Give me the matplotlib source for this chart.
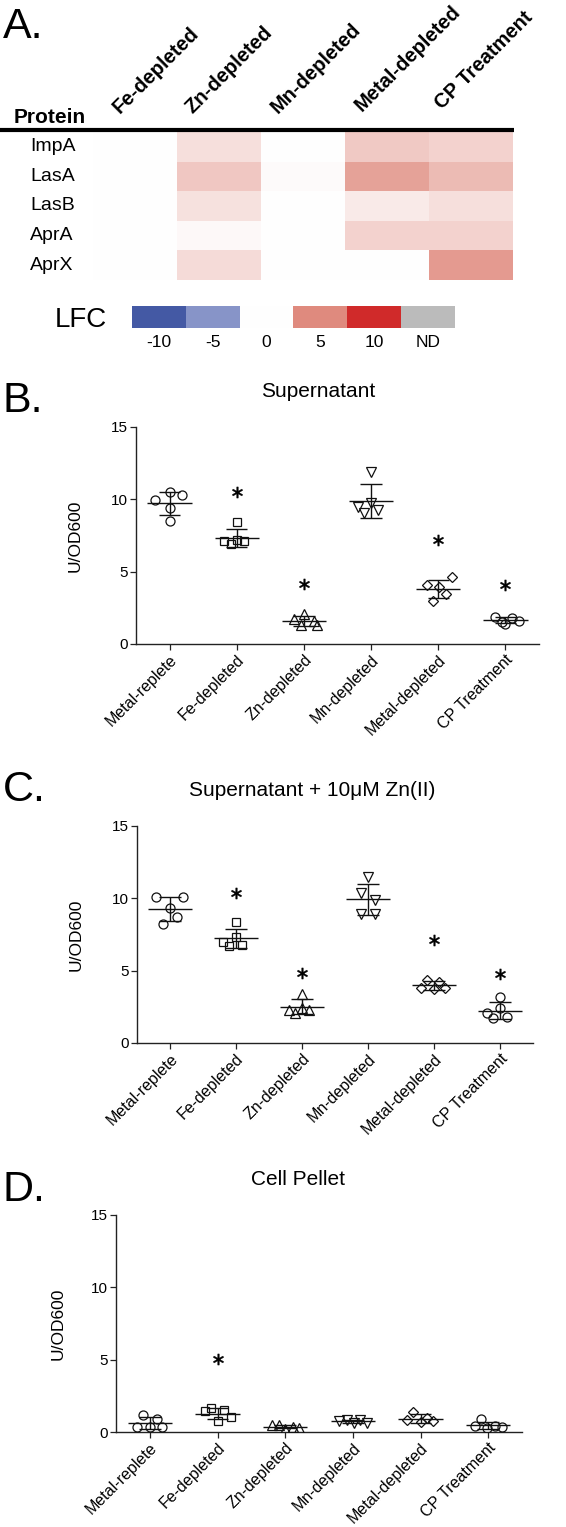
import numpy as np
import matplotlib
matplotlib.use('Agg')
import matplotlib.pyplot as plt
from matplotlib.colors import LinearSegmentedColormap, Normalize

# figure size in pixels (dpi 100)
W, H = 566, 1527
plt.rcParams.update({'font.family': ['Liberation Sans', 'DejaVu Sans'], 'font.size': 10})

# ---------------- panel A data ----------------
proteins = ['ImpA', 'LasA', 'LasB', 'AprA', 'AprX']
heat_conditions = ['Fe-depleted', 'Zn-depleted', 'Mn-depleted', 'Metal-depleted', 'CP Treatment']
# log fold change, rows = proteins, cols = heat_conditions
lfc_impa = [0.0, 1.35, 0.0, 2.3, 1.9]
lfc_lasa = [0.0, 2.4, 0.2, 4.0, 2.9]
lfc_lasb = [0.0, 1.3, 0.0, 0.9, 1.4]
lfc_apra = [0.0, 0.3, 0.0, 1.9, 1.9]
lfc_aprx = [0.0, 1.5, 0.0, 0.0, 4.35]

lfc_keys = [-10, -5, 0, 5, 10]
lfc_key_labels = ['-10', '-5', '0', '5', '10', 'ND']
lfc_colors = ['#4459a4', '#8794c8', '#ffffff', '#e08c80', '#d02a2a']
nd_color = '#bbbbbb'

# ---------------- panels B-D data ----------------
conditions = ['Metal-replete', 'Fe-depleted', 'Zn-depleted', 'Mn-depleted',
              'Metal-depleted', 'CP Treatment']

sup_metal_replete = [9.95, 10.5, 10.3, 9.4, 8.5]
sup_fe = [8.4, 7.1, 6.9, 7.2, 7.1]
sup_zn = [2.05, 1.7, 1.6, 1.3, 1.3]
sup_mn = [11.9, 9.5, 9.05, 9.75, 9.25]
sup_metal_depleted = [4.1, 3.92, 4.61, 3.46, 2.94]
sup_cp = [1.9, 1.8, 1.6, 1.5, 1.4]
sup_stars = [None, 10.5, 4.15, None, 7.2, 4.1]

zn_metal_replete = [10.1, 10.1, 9.3, 8.7, 8.2]
zn_fe = [8.35, 6.97, 6.72, 6.79, 7.3]
zn_zn = [3.4, 2.3, 2.1, 2.45, 2.3]
zn_mn = [11.5, 10.35, 9.9, 8.95, 8.95]
zn_metal_depleted = [4.35, 4.25, 3.8, 3.7, 3.8]
zn_cp = [3.15, 2.4, 2.05, 1.8, 1.75]
zn_stars = [None, 10.35, 4.85, None, 7.15, 4.8]

pel_metal_replete = [1.2, 0.92, 0.35, 0.35, 0.35]
pel_fe = [1.43, 1.66, 1.54, 0.74, 1.01]
pel_zn = [0.45, 0.45, 0.2, 0.35, 0.3]
pel_mn = [0.75, 0.85, 0.6, 0.85, 0.65]
pel_metal_depleted = [1.4, 0.85, 0.95, 0.75, 0.7]
pel_cp = [0.9, 0.4, 0.28, 0.4, 0.32]
pel_stars = [None, 5.05, None, None, None, None]

# horizontal scatter of the points inside each group (layout only)
jit_sup = [[-0.21, 0, 0.19, 0, 0], [0, -0.19, -0.09, 0, 0.11], [0, -0.15, 0.15, -0.05, 0.2],
           [0, -0.19, -0.1, 0, 0.1], [-0.17, 0.01, 0.21, 0.11, -0.08], [-0.15, 0.1, 0.2, -0.05, 0]]
jit_zn = [[-0.21, 0.19, 0, 0.1, -0.11], [0, -0.2, -0.11, 0.09, 0], [0, -0.2, -0.11, 0, 0.1],
          [0, -0.11, 0.1, -0.11, 0.1], [-0.11, 0.08, -0.19, 0, 0.17], [0, 0, -0.19, 0.1, -0.1]]
jit_pel = [[-0.1, 0.1, -0.19, 0, 0.18], [-0.19, -0.09, 0.1, 0, 0.2], [-0.19, -0.09, 0, 0.11, 0.21],
           [-0.2, -0.08, 0.01, 0.11, 0.21], [-0.11, -0.2, 0.09, 0.19, 0], [-0.1, -0.2, -0.01, 0.1, 0.2]]

markers = ['o', 's', '^', 'v', 'D', 'o']
marker_sizes = [6.5, 6.3, 7, 7, 5.2, 6.5]


def px_rect(x0, y0, x1, y1):
    return [x0 / W, 1 - y1 / H, (x1 - x0) / W, (y1 - y0) / H]


def fx(x):
    return x / W


def fy(y):
    return 1 - y / H


fig = plt.figure(figsize=(W / 100, H / 100), dpi=100)

# ---------------- panel A ----------------
cmap = LinearSegmentedColormap.from_list('lfc', list(zip([0, .25, .5, .75, 1], lfc_colors)))
cmap.set_bad(nd_color)
norm = Normalize(-10, 10)

lfc = np.array([lfc_impa, lfc_lasa, lfc_lasb, lfc_apra, lfc_aprx])
axh = fig.add_axes(px_rect(93, 132, 513, 280))
axh.imshow(lfc, cmap=cmap, norm=norm, aspect='auto', interpolation='nearest')
axh.set_xlim(-0.5, 4.5)
axh.set_ylim(4.5, -0.5)
axh.axis('off')

for i, p in enumerate(proteins):
    axh.text(-1.25, i, p, ha='left', va='center', fontsize=14)

col_dx = [-0.18, -0.31, -0.30, -0.30, -0.35]
col_y = [-1.11, -1.11, -1.11, -1.18, -1.25]
for i, c in enumerate(heat_conditions):
    axh.text(i + col_dx[i], col_y[i], c, rotation=45, rotation_mode='anchor',
             ha='left', va='baseline', fontsize=14.5, fontweight='bold')

axh.text(-1.44, -1.0, 'Protein', ha='left', va='center', fontsize=15, fontweight='bold')
axh.plot([-1.61, 4.51], [-0.57, -0.57], color='k', lw=3, clip_on=False, solid_capstyle='butt')

# LFC key
axk = fig.add_axes(px_rect(132, 306, 455, 328))
axk.imshow(np.array([lfc_keys + [np.nan]], dtype=float), cmap=cmap, norm=norm,
           aspect='auto', interpolation='nearest')
axk.axis('off')
for i, lab in enumerate(lfc_key_labels):
    axk.text(i, 1.18, lab, ha='center', va='center', fontsize=12.5)
fig.text(fx(81), fy(320), 'LFC', ha='center', va='center', fontsize=20)

fig.text(fx(3), fy(38), 'A.', fontsize=31, ha='left', va='baseline')


# ---------------- panels B-D ----------------
def scatter_panel(rect, values, jitter, stars, title, title_xy, ylab_x):
    ax = fig.add_axes(px_rect(*rect))
    for i, vals in enumerate(values):
        vals = np.array(vals)
        ax.plot(i + np.array(jitter[i]), vals, ls='none', marker=markers[i],
                ms=marker_sizes[i], mfc='none', mec='#111111', mew=0.9, zorder=3)
        m = vals.mean()
        s = vals.std(ddof=1)
        ax.hlines(m, i - 0.33, i + 0.33, color='#111111', lw=1.0, zorder=2)
        ax.hlines([m - s, m + s], i - 0.16, i + 0.16, color='#111111', lw=1.0, zorder=2)
        ax.vlines(i, m - s, m + s, color='#111111', lw=1.0, zorder=2)
        if stars[i] is not None:
            ax.plot(i, stars[i], ls='none', marker=r'$\ast$', ms=8, color='k', mew=0.3)
    ax.set_xlim(-0.5, 5.5)
    ax.set_ylim(0, 15)
    ax.set_yticks([0, 5, 10, 15])
    ax.set_xticks(range(len(conditions)))
    ax.set_xticklabels(conditions, rotation=45, ha='right', va='top',
                       rotation_mode='anchor', fontsize=11.5)
    ax.tick_params(axis='y', labelsize=11)
    ax.tick_params(direction='out', length=4, width=0.9, color='#222222', pad=2)
    for sp in ['top', 'right']:
        ax.spines[sp].set_visible(False)
    for sp in ['left', 'bottom']:
        ax.spines[sp].set_linewidth(1.0)
        ax.spines[sp].set_color('#222222')
    fig.text(fx(title_xy[0]), fy(title_xy[1]), title, ha='center', va='baseline', fontsize=15)
    fig.text(fx(ylab_x), fy((rect[1] + rect[3]) / 2), 'U/OD600', rotation=90,
             ha='center', va='center', fontsize=12.5)
    return ax


scatter_panel((136, 427, 539, 644),
              [sup_metal_replete, sup_fe, sup_zn, sup_mn, sup_metal_depleted, sup_cp],
              jit_sup, sup_stars, 'Supernatant', (318, 397), 75)
fig.text(fx(3), fy(412), 'B.', fontsize=31, ha='left', va='baseline')

scatter_panel((137, 826, 533, 1043),
              [zn_metal_replete, zn_fe, zn_zn, zn_mn, zn_metal_depleted, zn_cp],
              jit_zn, zn_stars, 'Supernatant + 10\u03bcM Zn(II)', (312, 796), 76)
fig.text(fx(3), fy(801), 'C.', fontsize=31, ha='left', va='baseline')

scatter_panel((116, 1215, 522, 1432),
              [pel_metal_replete, pel_fe, pel_zn, pel_mn, pel_metal_depleted, pel_cp],
              jit_pel, pel_stars, 'Cell Pellet', (298, 1185), 58)
fig.text(fx(3), fy(1201), 'D.', fontsize=31, ha='left', va='baseline')

fig.savefig('out.png', dpi=100)
